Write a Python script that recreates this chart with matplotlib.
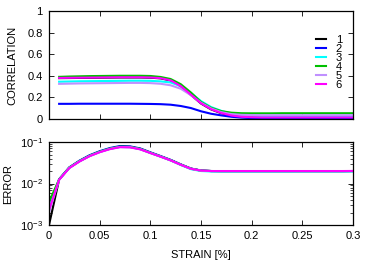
import matplotlib
matplotlib.use("Agg")
import matplotlib.pyplot as plt
from matplotlib.ticker import LogLocator, NullFormatter, MultipleLocator

plt.rcParams['font.family'] = ['Liberation Sans', 'DejaVu Sans']
plt.rcParams['font.size'] = 8

labels = ["1", "2", "3", "4", "5", "6"]
colors = ["#000000", "#0000ff", "#00ffff", "#00c000", "#c090ff", "#ff00ff"]

# correlation: strain 0.01 .. 0.30
strain_corr = [0.01, 0.02, 0.03, 0.04, 0.05, 0.06, 0.07, 0.08, 0.09, 0.10,
               0.11, 0.12, 0.13, 0.14, 0.15, 0.16, 0.17, 0.18, 0.19, 0.20,
               0.21, 0.22, 0.23, 0.24, 0.25, 0.26, 0.27, 0.28, 0.29, 0.30]
corr1 = [0.378, 0.379, 0.380, 0.381, 0.382, 0.383, 0.384, 0.384, 0.384, 0.382,
         0.376, 0.356, 0.303, 0.223, 0.143, 0.088, 0.053, 0.030, 0.019, 0.015,
         0.013, 0.013, 0.013, 0.013, 0.013, 0.013, 0.013, 0.013, 0.013, 0.013]
corr2 = [0.140, 0.140, 0.141, 0.141, 0.141, 0.141, 0.141, 0.141, 0.140, 0.139,
         0.137, 0.132, 0.120, 0.101, 0.071, 0.048, 0.033, 0.020, 0.012, 0.008,
         0.006, 0.005, 0.005, 0.005, 0.005, 0.005, 0.005, 0.005, 0.005, 0.005]
corr3 = [0.345, 0.347, 0.349, 0.350, 0.351, 0.352, 0.353, 0.354, 0.354, 0.353,
         0.348, 0.338, 0.305, 0.240, 0.165, 0.110, 0.075, 0.050, 0.036, 0.030,
         0.028, 0.027, 0.027, 0.027, 0.027, 0.027, 0.027, 0.027, 0.027, 0.027]
corr4 = [0.390, 0.393, 0.395, 0.397, 0.398, 0.399, 0.400, 0.400, 0.400, 0.398,
         0.389, 0.370, 0.322, 0.245, 0.157, 0.103, 0.072, 0.058, 0.053, 0.052,
         0.052, 0.052, 0.053, 0.053, 0.053, 0.053, 0.053, 0.053, 0.053, 0.053]
corr5 = [0.325, 0.327, 0.329, 0.330, 0.331, 0.332, 0.333, 0.334, 0.334, 0.332,
         0.326, 0.312, 0.280, 0.220, 0.150, 0.097, 0.063, 0.045, 0.038, 0.036,
         0.035, 0.035, 0.035, 0.035, 0.035, 0.035, 0.035, 0.035, 0.035, 0.035]
corr6 = [0.380, 0.381, 0.382, 0.383, 0.384, 0.385, 0.386, 0.386, 0.386, 0.384,
         0.378, 0.358, 0.305, 0.225, 0.145, 0.090, 0.055, 0.032, 0.020, 0.016,
         0.014, 0.014, 0.014, 0.014, 0.014, 0.014, 0.014, 0.014, 0.014, 0.014]

# error: strain 0.00 .. 0.30
strain_err = [0.00, 0.01, 0.02, 0.03, 0.04, 0.05, 0.06, 0.07, 0.08, 0.09, 0.10,
              0.11, 0.12, 0.13, 0.14, 0.15, 0.16, 0.17, 0.18, 0.19, 0.20,
              0.21, 0.22, 0.23, 0.24, 0.25, 0.26, 0.27, 0.28, 0.29, 0.30]
err1 = [0.0010, 0.0125, 0.0240, 0.0345, 0.0465, 0.0580, 0.0690, 0.0770, 0.0760, 0.0680, 0.0550,
        0.0450, 0.0365, 0.0285, 0.0228, 0.0205, 0.0200, 0.0199, 0.0199, 0.0199, 0.0199,
        0.0199, 0.0199, 0.0199, 0.0199, 0.0199, 0.0199, 0.0199, 0.0199, 0.0199, 0.0200]
err2 = [0.0025, 0.0127, 0.0245, 0.0355, 0.0480, 0.0600, 0.0715, 0.0800, 0.0785, 0.0700, 0.0565,
        0.0460, 0.0372, 0.0290, 0.0230, 0.0206, 0.0200, 0.0199, 0.0199, 0.0199, 0.0199,
        0.0199, 0.0199, 0.0199, 0.0199, 0.0199, 0.0199, 0.0199, 0.0199, 0.0199, 0.0200]
err3 = [0.0026, 0.0124, 0.0238, 0.0342, 0.0460, 0.0575, 0.0683, 0.0760, 0.0750, 0.0672, 0.0545,
        0.0445, 0.0360, 0.0280, 0.0222, 0.0200, 0.0195, 0.0194, 0.0194, 0.0194, 0.0194,
        0.0194, 0.0194, 0.0194, 0.0194, 0.0195, 0.0195, 0.0195, 0.0195, 0.0195, 0.0195]
err4 = [0.0036, 0.0126, 0.0242, 0.0348, 0.0468, 0.0585, 0.0695, 0.0775, 0.0765, 0.0684, 0.0553,
        0.0452, 0.0366, 0.0286, 0.0228, 0.0205, 0.0200, 0.0199, 0.0199, 0.0199, 0.0199,
        0.0199, 0.0199, 0.0199, 0.0199, 0.0199, 0.0199, 0.0199, 0.0199, 0.0199, 0.0200]
err5 = [0.0020, 0.0124, 0.0238, 0.0342, 0.0460, 0.0572, 0.0680, 0.0758, 0.0750, 0.0670, 0.0545,
        0.0446, 0.0362, 0.0283, 0.0226, 0.0204, 0.0199, 0.0198, 0.0198, 0.0198, 0.0198,
        0.0198, 0.0198, 0.0198, 0.0198, 0.0198, 0.0198, 0.0198, 0.0198, 0.0198, 0.0199]
err6 = [0.0023, 0.0123, 0.0235, 0.0338, 0.0455, 0.0567, 0.0673, 0.0750, 0.0742, 0.0665, 0.0542,
        0.0444, 0.0361, 0.0283, 0.0227, 0.0205, 0.0200, 0.0200, 0.0200, 0.0200, 0.0200,
        0.0200, 0.0200, 0.0200, 0.0200, 0.0200, 0.0200, 0.0200, 0.0200, 0.0200, 0.0201]

corrs = [corr1, corr2, corr3, corr4, corr5, corr6]
errs = [err1, err2, err3, err4, err5, err6]

fig = plt.figure(figsize=(3.74, 2.62), dpi=100)
ax1 = fig.add_axes([0.131, 0.546, 0.813, 0.412])
ax2 = fig.add_axes([0.131, 0.141, 0.813, 0.317])

for lab, col, c in zip(labels, colors, corrs):
    ax1.plot(strain_corr, c, color=col, lw=1.5, label=lab)
for lab, col, e in zip(labels, colors, errs):
    ax2.plot(strain_err, e, color=col, lw=1.5, label=lab)

for ax in (ax1, ax2):
    ax.set_xlim(0, 0.3)
    ax.xaxis.set_major_locator(MultipleLocator(0.05))
    ax.tick_params(direction='in', top=True, right=True, length=3.5, width=0.6,
                   labelsize=8, pad=4.5)
    ax.tick_params(which='minor', direction='in', top=True, right=True, length=2, width=0.5)
    for s in ax.spines.values():
        s.set_linewidth(0.9)

ax1.set_ylim(0, 1)
ax1.tick_params(labelbottom=False)
ax1.set_yticks([0, 0.2, 0.4, 0.6, 0.8, 1.0])
ax1.set_yticklabels(["0", "0.2", "0.4", "0.6", "0.8", "1"])
ax1.set_ylabel("CORRELATION", fontsize=8, labelpad=7)

ax2.set_yscale('log')
ax2.set_ylim(1e-3, 1e-1)
ax2.yaxis.set_major_locator(LogLocator(base=10, numticks=5))
ax2.yaxis.set_minor_locator(LogLocator(base=10, subs=range(2, 10), numticks=20))
ax2.yaxis.set_minor_formatter(NullFormatter())
ax2.set_xticks([0, 0.05, 0.1, 0.15, 0.2, 0.25, 0.3])
ax2.set_xticklabels(["0", "0.05", "0.1", "0.15", "0.2", "0.25", "0.3"])
ax2.set_ylabel("ERROR", fontsize=8, labelpad=5)
ax2.set_xlabel("STRAIN [%]", fontsize=8, labelpad=6)

leg = ax1.legend(loc='upper right', bbox_to_anchor=(1.0, 0.88), frameon=False,
                 handlelength=0.9, handletextpad=0.9, labelspacing=-0.1,
                 borderaxespad=0.6, fontsize=8, markerfirst=True)

fig.savefig("out.png", dpi=100)
